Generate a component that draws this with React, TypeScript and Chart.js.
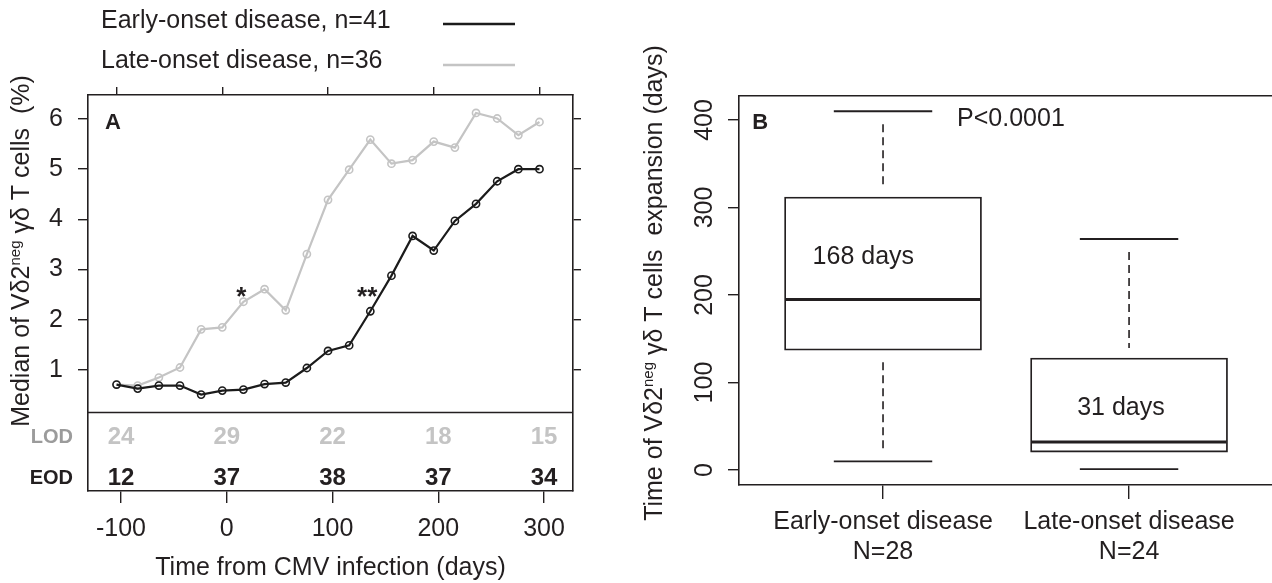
import React, { useEffect, useRef } from 'react';
import { Chart, registerables } from 'chart.js';

Chart.register(...registerables);

// ---------- Panel A data ----------
const days = [-100, -80, -60, -40, -20, 0, 20, 40, 60, 80, 100, 120, 140, 160, 180, 200, 220, 240, 260, 280, 300];
const earlyMedian = [0.71, 0.63, 0.69, 0.69, 0.51, 0.59, 0.61, 0.72, 0.75, 1.04, 1.38, 1.49, 2.17, 2.88, 3.67, 3.38, 3.97, 4.31, 4.76, 5.0, 5.0];
const lateMedian = [0.71, 0.69, 0.85, 1.05, 1.81, 1.85, 2.36, 2.61, 2.19, 3.31, 4.39, 4.99, 5.59, 5.11, 5.18, 5.55, 5.43, 6.12, 6.01, 5.68, 5.94];
const axisDays = [-100, 0, 100, 200, 300];
const percentTicks = [1, 2, 3, 4, 5, 6];
const countDays = [-100, 0, 100, 200, 300];
const lodCounts = [24, 29, 22, 18, 15];
const eodCounts = [12, 37, 38, 37, 34];
const legendLabels = ['Early-onset disease, n=41', 'Late-onset disease, n=36'];
const starLabels = ['*', '**'];
const starDays = [18, 137];
const starValues = [2.29, 2.29];

// ---------- Panel B data ----------
const groups = ['Early-onset disease', 'Late-onset disease'];
const groupN = ['N=28', 'N=24'];
const whiskerLow = [10, 1];
const quartile1 = [137, 20.5];
const medians = [195, 32];
const quartile3 = [312, 128];
const whiskerHigh = [410, 264];
const medianLabels = ['168 days', '31 days'];
const dayTicks = [0, 100, 200, 300, 400];

// ---------- styles ----------
const FONT = "'Liberation Sans', Arial, Helvetica, sans-serif";
const TEXT = '#231f20';
const AXIS = '#231f20';
const BLACK = '#1b1b1b';
const GRAY = '#c4c4c4';
const FS = 25;
const W_A = 640;
const W_B = 632;
const H = 583;

function drawRotatedRich(ctx: CanvasRenderingContext2D, parts: { text: string; size: number; dy: number }[], cx: number, cy: number) {
  ctx.save();
  ctx.translate(cx, cy);
  ctx.rotate(-Math.PI / 2);
  let total = 0;
  const widths: number[] = [];
  for (const p of parts) {
    ctx.font = `${p.size}px ${FONT}`;
    const w = ctx.measureText(p.text).width;
    widths.push(w);
    total += w;
  }
  let x = -total / 2;
  ctx.textAlign = 'left';
  ctx.textBaseline = 'middle';
  ctx.fillStyle = TEXT;
  parts.forEach((p, i) => {
    ctx.font = `${p.size}px ${FONT}`;
    ctx.fillText(p.text, x, p.dy);
    x += widths[i];
  });
  ctx.restore();
}

const panelAPlugin = {
  id: 'panelA',
  afterDraw(chart: any) {
    const { ctx, chartArea: ca, scales } = chart;
    const x = scales.x, xb = scales.xb, y = scales.y;
    ctx.save();
    // divider between plot and table
    const yd = Math.round(y.getPixelForValue(0.163)) + 0.5;
    ctx.strokeStyle = AXIS;
    ctx.lineWidth = 1.6;
    ctx.beginPath();
    ctx.moveTo(ca.left, yd);
    ctx.lineTo(ca.right, yd);
    ctx.stroke();

    // table of counts
    const lodY = y.getPixelForValue(-0.335);
    const eodY = y.getPixelForValue(-1.151);
    ctx.textAlign = 'center';
    ctx.textBaseline = 'middle';
    ctx.font = `bold 24px ${FONT}`;
    countDays.forEach((d, i) => {
      const px = xb.getPixelForValue(d);
      ctx.fillStyle = GRAY;
      ctx.fillText(String(lodCounts[i]), px, lodY);
      ctx.fillStyle = TEXT;
      ctx.fillText(String(eodCounts[i]), px, eodY);
    });
    ctx.font = `bold 20px ${FONT}`;
    ctx.textAlign = 'right';
    ctx.fillStyle = '#9b9b9b';
    ctx.fillText('LOD', ca.left - 15, lodY);
    ctx.fillStyle = TEXT;
    ctx.fillText('EOD', ca.left - 15, eodY);

    // panel letter
    ctx.textAlign = 'left';
    ctx.font = `bold 22px ${FONT}`;
    ctx.fillText('A', x.getPixelForValue(-111), y.getPixelForValue(5.93));

    // significance stars
    ctx.textAlign = 'center';
    ctx.textBaseline = 'alphabetic';
    ctx.font = `bold 26px ${FONT}`;
    starLabels.forEach((s, i) => {
      ctx.fillText(s, x.getPixelForValue(starDays[i]), y.getPixelForValue(starValues[i]));
    });

    // x title
    ctx.textBaseline = 'middle';
    ctx.font = `${FS}px ${FONT}`;
    ctx.fillText('Time from CMV infection (days)', (ca.left + ca.right) / 2, 568);

    // y title
    drawRotatedRich(ctx, [
      { text: 'Median of V\u03b42', size: FS, dy: 0 },
      { text: 'neg', size: 15, dy: -6 },
      { text: ' \u03b3\u03b4 T cells  (%)', size: FS, dy: 0 },
    ], 22, 251);

    // legend
    const legendColors = [BLACK, GRAY];
    const legendY = [21, 61];
    const lineY = [24, 65];
    legendLabels.forEach((lab, i) => {
      ctx.textAlign = 'left';
      ctx.fillStyle = TEXT;
      ctx.font = `${FS}px ${FONT}`;
      ctx.fillText(lab, 101, legendY[i]);
      ctx.strokeStyle = legendColors[i];
      ctx.lineWidth = 2.5;
      ctx.beginPath();
      ctx.moveTo(443, lineY[i]);
      ctx.lineTo(515, lineY[i]);
      ctx.stroke();
    });
    ctx.restore();
  },
};

const panelBPlugin = {
  id: 'panelB',
  afterDatasetsDraw(chart: any) {
    const { ctx, scales } = chart;
    const x = scales.x, y = scales.y;
    ctx.save();
    ctx.strokeStyle = AXIS;
    groups.forEach((g, i) => {
      const cx = x.getPixelForValue(i + 1);
      const half = x.getPixelForValue(i + 1.4) - cx;
      const capHalf = half / 2;
      // median
      ctx.setLineDash([]);
      ctx.lineWidth = 3;
      const ym = y.getPixelForValue(medians[i]);
      ctx.beginPath();
      ctx.moveTo(cx - half + 1, ym);
      ctx.lineTo(cx + half - 1, ym);
      ctx.stroke();
      // caps
      ctx.lineWidth = 1.8;
      [whiskerLow[i], whiskerHigh[i]].forEach((v) => {
        const yy = y.getPixelForValue(v);
        ctx.beginPath();
        ctx.moveTo(cx - capHalf, yy);
        ctx.lineTo(cx + capHalf, yy);
        ctx.stroke();
      });
      // dashed whiskers
      ctx.setLineDash([8, 5]);
      ctx.lineWidth = 1.6;
      const yHi = y.getPixelForValue(whiskerHigh[i]) + 13;
      const yQ3 = y.getPixelForValue(quartile3[i]) - 10;
      if (yQ3 > yHi) {
        ctx.beginPath();
        ctx.moveTo(cx, yHi);
        ctx.lineTo(cx, yQ3);
        ctx.stroke();
      }
      const yLo = y.getPixelForValue(whiskerLow[i]) - 13;
      const yQ1 = y.getPixelForValue(quartile1[i]) + 10;
      if (yLo > yQ1) {
        ctx.beginPath();
        ctx.moveTo(cx, yLo);
        ctx.lineTo(cx, yQ1);
        ctx.stroke();
      }
    });
    ctx.setLineDash([]);

    // texts
    ctx.fillStyle = TEXT;
    ctx.textBaseline = 'middle';
    ctx.textAlign = 'left';
    ctx.font = `bold 22px ${FONT}`;
    ctx.fillText('B', x.getPixelForValue(0.468), y.getPixelForValue(397));
    ctx.textAlign = 'center';
    ctx.font = `${FS}px ${FONT}`;
    ctx.fillText('P<0.0001', x.getPixelForValue(1.52), y.getPixelForValue(401));
    const labelPos = [[0.92, 243], [1.967, 71]];
    medianLabels.forEach((m, i) => {
      ctx.fillText(m, x.getPixelForValue(labelPos[i][0]), y.getPixelForValue(labelPos[i][1]));
    });

    drawRotatedRich(ctx, [
      { text: 'Time of V\u03b42', size: FS, dy: 0 },
      { text: 'neg', size: 15, dy: -6 },
      { text: ' \u03b3\u03b4 T cells  expansion (days)', size: FS, dy: 0 },
    ], 15, 283);
    ctx.restore();
  },
};

const tickFont = { family: FONT, size: FS };

function PanelA() {
  const ref = useRef<HTMLCanvasElement>(null);
  useEffect(() => {
    const left = 88, right = 573, top = 95, bottom = 491;
    const yMin = -1.41, yMax = 6.478;
    const chart = new Chart(ref.current as HTMLCanvasElement, {
      type: 'line',
      data: {
        datasets: [
          {
            label: legendLabels[0],
            data: days.map((d, i) => ({ x: d, y: earlyMedian[i] })),
            borderColor: BLACK,
            borderWidth: 2.2,
            pointRadius: 3.6,
            pointBorderWidth: 1.6,
            pointBorderColor: BLACK,
            pointBackgroundColor: 'rgba(0,0,0,0)',
            tension: 0,
            xAxisID: 'x',
            yAxisID: 'y',
          },
          {
            label: legendLabels[1],
            data: days.map((d, i) => ({ x: d, y: lateMedian[i] })),
            borderColor: GRAY,
            borderWidth: 2.2,
            pointRadius: 3.6,
            pointBorderWidth: 1.6,
            pointBorderColor: GRAY,
            pointBackgroundColor: 'rgba(0,0,0,0)',
            tension: 0,
            xAxisID: 'x',
            yAxisID: 'y',
          },
        ],
      },
      options: {
        responsive: false,
        animation: false,
        devicePixelRatio: 1,
        events: [],
        layout: { padding: 0 },
        plugins: { legend: { display: false }, tooltip: { enabled: false } },
        scales: {
          x: {
            type: 'linear', position: 'top', min: -127, max: 331.7,
            afterBuildTicks: (s: any) => { s.ticks = axisDays.map((v) => ({ value: v })); },
            ticks: { display: false },
            grid: { drawOnChartArea: false, drawTicks: true, tickLength: 8, color: AXIS, lineWidth: 1.4 },
            border: { display: true, color: AXIS, width: 1.6 },
            afterFit: (s: any) => { s.height = top; },
          },
          xb: {
            type: 'linear', position: 'bottom', min: -131.2, max: 327.4,
            afterBuildTicks: (s: any) => { s.ticks = axisDays.map((v) => ({ value: v })); },
            ticks: { display: true, font: tickFont, color: TEXT, padding: 11, maxRotation: 0, autoSkip: false, callback: (v: any) => String(v) },
            grid: { drawOnChartArea: false, drawTicks: true, tickLength: 12, color: AXIS, lineWidth: 1.4 },
            border: { display: true, color: AXIS, width: 1.6 },
            afterFit: (s: any) => { s.height = H - bottom; },
          },
          y: {
            type: 'linear', position: 'left', min: yMin, max: yMax,
            afterBuildTicks: (s: any) => { s.ticks = percentTicks.map((v) => ({ value: v })); },
            ticks: { font: tickFont, color: TEXT, padding: 15, callback: (v: any) => String(v) },
            grid: { drawOnChartArea: false, drawTicks: true, tickLength: 10, color: AXIS, lineWidth: 1.4 },
            border: { display: true, color: AXIS, width: 1.6 },
            afterFit: (s: any) => { s.width = left; },
          },
          y2: {
            type: 'linear', position: 'right', min: yMin, max: yMax,
            afterBuildTicks: (s: any) => { s.ticks = percentTicks.map((v) => ({ value: v })); },
            ticks: { display: false },
            grid: { drawOnChartArea: false, drawTicks: true, tickLength: 8, color: AXIS, lineWidth: 1.4 },
            border: { display: true, color: AXIS, width: 1.6 },
            afterFit: (s: any) => { s.width = W_A - right; },
          },
        },
      } as any,
      plugins: [panelAPlugin],
    });
    return () => chart.destroy();
  }, []);
  return <canvas ref={ref} width={W_A} height={H} style={{ position: 'absolute', left: 0, top: 0, width: W_A, height: H }} />;
}

function PanelB() {
  const ref = useRef<HTMLCanvasElement>(null);
  useEffect(() => {
    const left = 99, top = 96, bottom = 485;
    const xMin = 0.4146, xMax = 2.581;
    const chart = new Chart(ref.current as HTMLCanvasElement, {
      type: 'bar',
      data: {
        datasets: [
          {
            data: groups.map((g, i) => ({ x: i + 1, y: [quartile1[i], quartile3[i]] })) as any,
            backgroundColor: '#ffffff',
            borderColor: AXIS,
            borderWidth: 1.8,
            borderSkipped: false,
            barThickness: 197,
          },
        ],
      },
      options: {
        responsive: false,
        animation: false,
        devicePixelRatio: 1,
        events: [],
        layout: { padding: 0 },
        plugins: { legend: { display: false }, tooltip: { enabled: false } },
        scales: {
          x: {
            type: 'linear', position: 'bottom', min: xMin, max: xMax, offset: false,
            afterBuildTicks: (s: any) => { s.ticks = groups.map((g, i) => ({ value: i + 1 })); },
            ticks: {
              font: tickFont, color: TEXT, padding: 8, maxRotation: 0, autoSkip: false,
              callback: (v: any) => { const i = Math.round(v) - 1; return [groups[i], groupN[i]]; },
            },
            grid: { offset: false, drawOnChartArea: false, drawTicks: true, tickLength: 14, color: AXIS, lineWidth: 1.4 },
            border: { display: true, color: AXIS, width: 1.6 },
            afterFit: (s: any) => { s.height = H - bottom; },
          },
          xt: {
            type: 'linear', position: 'top', min: xMin, max: xMax,
            ticks: { display: false },
            grid: { offset: false, drawOnChartArea: false, drawTicks: false },
            border: { display: true, color: AXIS, width: 1.6 },
            afterFit: (s: any) => { s.height = top; },
          },
          y: {
            type: 'linear', position: 'left', min: -17.1, max: 427.4,
            afterBuildTicks: (s: any) => { s.ticks = dayTicks.map((v) => ({ value: v })); },
            ticks: { font: tickFont, color: TEXT, padding: 2, minRotation: 90, maxRotation: 90, crossAlign: 'center', callback: (v: any) => String(v) },
            grid: { drawOnChartArea: false, drawTicks: true, tickLength: 11, color: AXIS, lineWidth: 1.4 },
            border: { display: true, color: AXIS, width: 1.6 },
            afterFit: (s: any) => { s.width = left; },
          },
        },
      } as any,
      plugins: [panelBPlugin],
    });
    return () => chart.destroy();
  }, []);
  return <canvas ref={ref} width={W_B} height={H} style={{ position: 'absolute', left: 640, top: 0, width: W_B, height: H }} />;
}

export default function App() {
  return (
    <div style={{ position: 'absolute', left: 0, top: 0, width: 1272, height: H, background: '#ffffff', overflow: 'hidden' }}>
      <PanelA />
      <PanelB />
    </div>
  );
}
